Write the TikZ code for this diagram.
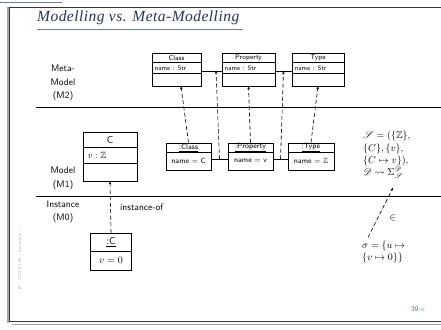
\documentclass[tikz,border=0pt]{standalone}
\usepackage{amsmath,amssymb}
\usepackage{mathrsfs}
\usepackage{fontspec}
\newfontfamily\titlefont{Liberation Serif}[LetterSpace=3]
\usetikzlibrary{arrows.meta,calc,shadows}
\definecolor{slidetitle}{RGB}{40,52,84}
\definecolor{slideline}{RGB}{112,124,152}
\definecolor{frameline}{RGB}{55,55,55}
\definecolor{frameshadow}{RGB}{165,165,165}
\definecolor{footgray}{RGB}{185,185,185}
\definecolor{pagenum}{RGB}{92,106,140}
\tikzset{
  umlbox/.style={draw, fill=white, line width=0.7pt, inner sep=0pt,
    drop shadow={shadow xshift=0.6pt, shadow yshift=-0.6pt, opacity=1, fill=black}},
  divider/.style={line width=0.5pt},
  lbl/.style={font=\sffamily\fontsize{9.5}{13.5}\selectfont, align=center, inner sep=0pt},
  hdr/.style={font=\sffamily\fontsize{7}{8}\selectfont, inner sep=0pt},
  attr/.style={font=\sffamily\fontsize{6.5}{8}\selectfont, inner sep=0pt},
  objtxt/.style={font=\sffamily\fontsize{7.5}{9}\selectfont, inner sep=0pt},
  bigtxt/.style={font=\sffamily\fontsize{10}{12}\selectfont, inner sep=0pt},
  formula/.style={font=\fontsize{10}{12.3}\selectfont, align=left, inner sep=0pt},
  inst/.style={line width=0.6pt, dash pattern=on 4pt off 2.5pt,
    -{Stealth[length=3pt,width=2.6pt]}},
  link/.style={line width=0.5pt},
  sepline/.style={line width=0.8pt},
}
\begin{document}
\begin{tikzpicture}[x=1pt,y=-1pt]
\useasboundingbox (0,0) rectangle (441,329);

% slide frame
\draw[slideline, line width=1.5pt] (0,2.5) -- (62,2.5);
\draw[frameshadow, line width=2pt] (7.5,7) -- (7.5,323);
\draw[frameline, line width=0.8pt] (9.5,7) -- (441,7);
\draw[frameline, line width=0.8pt] (9.5,7) -- (9.5,321.5) -- (441,321.5);
\draw[frameshadow, line width=1.6pt] (12,324.5) -- (441,324.5);

% title
\node[anchor=base west, inner sep=0pt, text=slidetitle,
  font=\titlefont\itshape\fontsize{15.5}{18}\selectfont] (title) at (37,22) {Modelling vs. Meta-Modelling};
\draw[slideline, line width=1.2pt] (37,29.5) -- (243,29.5);

% level separators and labels
\draw[sepline] (36,107) -- (441,107);
\draw[sepline] (36,196) -- (441,196);
\node[lbl] (m2) at (63,83) {Meta-\\Model\\(M2)};
\node[lbl] (m1) at (63,178.5) {Model\\(M1)};
\node[lbl] (m0) at (63,212) {Instance\\(M0)};

% M2: meta classes
\node[umlbox, minimum width=49pt, minimum height=33pt] (cls) at (176.5,69.5) {};
\node[umlbox, minimum width=53pt, minimum height=33pt] (prop) at (248.5,69.5) {};
\node[umlbox, minimum width=52pt, minimum height=33pt] (typ) at (318,69.5) {};
\foreach \b in {cls,prop,typ}{
  \draw[divider] ($(\b.north west)+(0,10)$) -- ($(\b.north east)+(0,10)$);
  \draw[divider] ($(\b.north west)+(0,21)$) -- ($(\b.north east)+(0,21)$);
}
\node[hdr] (cls-h) at ($(cls.north)+(0,5)$) {Class};
\node[hdr] (prop-h) at ($(prop.north)+(0,5)$) {Property};
\node[hdr] (typ-h) at ($(typ.north)+(0,5)$) {Type};
\node[attr, anchor=west] (cls-a) at ($(cls.north west)+(3,15.5)$) {name : Str};
\node[attr, anchor=west] (prop-a) at ($(prop.north west)+(3,15.5)$) {name : Str};
\node[attr, anchor=west] (typ-a) at ($(typ.north west)+(3,15.5)$) {name : Str};
\draw[link] ([yshift=-1.5pt]cls.east) -- coordinate (asc1) ([yshift=-1.5pt]prop.west);
\draw[link] ([yshift=-1.5pt]prop.east) -- coordinate (asc2) ([yshift=-1.5pt]typ.west);

% M1: objects of the meta classes
\node[umlbox, minimum width=45pt, minimum height=27pt] (clsi) at (188.5,156.5) {};
\node[umlbox, minimum width=45pt, minimum height=27pt] (propi) at (250.5,156.5) {};
\node[umlbox, minimum width=46pt, minimum height=27pt] (typi) at (311,156.5) {};
\foreach \b in {clsi,propi,typi}{
  \draw[divider] ($(\b.north west)+(0,10)$) -- ($(\b.north east)+(0,10)$);
}
\node[objtxt] (clsi-h) at ($(clsi.north)+(0,5)$) {\underline{:Class}};
\node[objtxt] (propi-h) at ($(propi.north)+(0,5)$) {\underline{:Property}};
\node[objtxt] (typi-h) at ($(typi.north)+(0,5)$) {\underline{:Type}};
\node[objtxt] (clsi-a) at ($(clsi.north)+(0,18.5)$) {name $=$ C};
\node[objtxt] (propi-a) at ($(propi.north)+(0,18.5)$) {name $=$ v};
\node[objtxt] (typi-a) at ($(typi.north)+(0,18.5)$) {name $=$ $\mathbb{Z}$};
\draw[link] ([yshift=-2.5pt]clsi.east) -- coordinate (lnk1) ([yshift=-2.5pt]propi.west);
\draw[link] ([yshift=-2.5pt]propi.east) -- coordinate (lnk2) ([yshift=-2.5pt]typi.west);

\draw[inst] (clsi.north) -- ([xshift=4.5pt]cls.south);
\draw[inst] (propi.north) -- (prop.south);
\draw[inst] (typi.north) -- (typ.south);
\draw[inst] (lnk1) -- ([xshift=4.5pt]asc1);
\draw[inst] (lnk2) -- (asc2);

% M1: the class C
\node[umlbox, line width=0.9pt, minimum width=54pt, minimum height=49pt] (c) at (110,156.5) {};
\draw[divider] ($(c.north west)+(0,16)$) -- ($(c.north east)+(0,16)$);
\draw[divider] ($(c.north west)+(0,32)$) -- ($(c.north east)+(0,32)$);
\node[bigtxt] (c-h) at ($(c.north)+(0,8)$) {C};
\node[inner sep=0pt, anchor=west, font=\fontsize{9}{11}\selectfont] (c-a) at ($(c.north west)+(5,24)$) {$v : \mathbb{Z}$};

% M0: the instance of C
\node[umlbox, line width=0.9pt, minimum width=41pt, minimum height=37pt] (ci) at (111,251.5) {};
\draw[divider] ($(ci.north west)+(0,19)$) -- ($(ci.north east)+(0,19)$);
\node[bigtxt] (ci-h) at ($(ci.north)+(0,9.5)$) {\underline{:C}};
\node[inner sep=0pt, font=\fontsize{10}{12}\selectfont] (ci-a) at ($(ci.north)+(0,28)$) {$v = 0$};
\draw[inst] (ci.north) -- (c.south);
\node[lbl, anchor=west] (io) at (120,207) {instance-of};

% signature and system state
\node[formula, anchor=north west] (sys) at (363,131)
  {$\mathscr{S} = (\{\mathbb{Z}\},$\\$\{C\}, \{v\},$\\$\{C \mapsto v\}),$\\$\mathscr{D} \rightsquigarrow \Sigma_{\mathscr{S}}^{\mathscr{D}}$};
\node[formula, anchor=north west] (sig) at (362,240.5)
  {$\sigma = \{u \mapsto$\\$\{v \mapsto 0\}\}$};
\node[inner sep=0pt, font=\fontsize{10}{12}\selectfont] (elem) at (393,218) {$\in$};
\draw[inst] ($(sig.north west)+(6,-3)$) -- ($(sys.south west)+(30,9)$);

% footer
\node[rotate=90, inner sep=0pt, text=footgray, font=\sffamily\fontsize{4.5}{5}\selectfont] (foot) at (20,262)
  {-- 19 -- 2012-02-08 -- Sprinciple --};
\node[anchor=base east, inner sep=0pt, text=pagenum, font=\sffamily\fontsize{7}{8}\selectfont] (pg) at (425,311)
  {39{\fontsize{4}{5}\selectfont/57}};
\end{tikzpicture}
\end{document}
